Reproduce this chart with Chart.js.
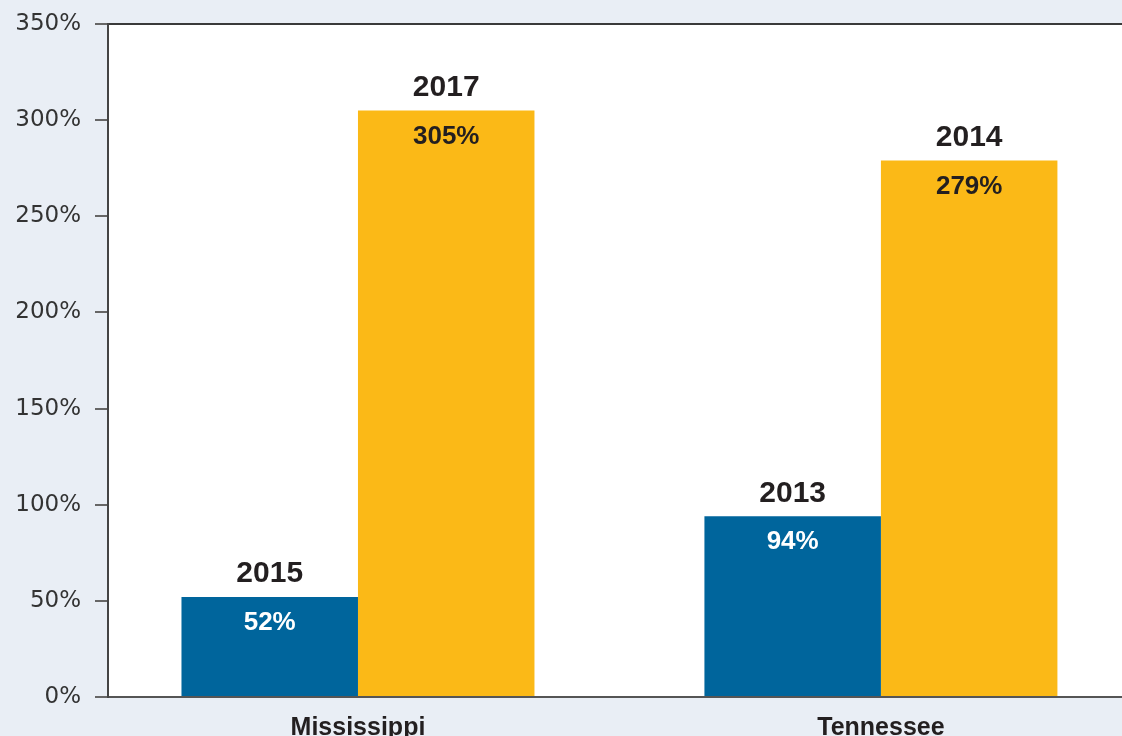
<!DOCTYPE html>
<html>
<head>
<meta charset="utf-8">
<script src="https://cdn.jsdelivr.net/npm/chart.js@4/dist/chart.umd.min.js"></script>
<style>
  html, body { margin: 0; padding: 0; background: #e9eef5; overflow: hidden; }
  #wrap { width: 1122px; height: 736px; }
</style>
</head>
<body>
<div id="wrap"><canvas id="barChart"></canvas></div>
<script>
// Data
const states = ['Mississippi', 'Tennessee'];
const firstValues = [52, 94];
const firstYears = ['2015', '2013'];
const secondValues = [305, 279];
const secondYears = ['2017', '2014'];
const yTicks = [0, 50, 100, 150, 200, 250, 300, 350];

const blue = '#00659c';
const gold = '#fbb917';
const boldFont = '"Liberation Sans", Arial, sans-serif';

// plot background + top rule
const plotFrame = {
  id: 'plotFrame',
  beforeDraw(chart) {
    const {ctx, chartArea: a} = chart;
    ctx.save();
    ctx.fillStyle = '#ffffff';
    ctx.fillRect(a.left, a.top, a.right - a.left, a.bottom - a.top);
    ctx.strokeStyle = '#3a3a3a';
    ctx.lineWidth = 2;
    ctx.beginPath();
    ctx.moveTo(a.left, a.top);
    ctx.lineTo(a.right, a.top);
    ctx.stroke();
    ctx.restore();
  }
};

// year above bar, percent inside bar
const barLabels = {
  id: 'barLabels',
  afterDatasetsDraw(chart) {
    const ctx = chart.ctx;
    ctx.save();
    ctx.textAlign = 'center';
    ctx.textBaseline = 'middle';
    chart.data.datasets.forEach((ds, i) => {
      chart.getDatasetMeta(i).data.forEach((bar, j) => {
        ctx.font = 'bold 30px ' + boldFont;
        ctx.fillStyle = '#231f20';
        ctx.fillText(ds.years[j], bar.x, bar.y - 23);
        ctx.font = 'bold 26px ' + boldFont;
        ctx.fillStyle = ds.textColor;
        ctx.fillText(ds.data[j].y + '%', bar.x, bar.y + 26);
      });
    });
    ctx.restore();
  }
};

const toPoints = vals => vals.map((v, i) => ({x: i, y: v}));

new Chart(document.getElementById('barChart'), {
  type: 'bar',
  data: {
    datasets: [
      {data: toPoints(firstValues), years: firstYears, backgroundColor: blue, textColor: '#ffffff'},
      {data: toPoints(secondValues), years: secondYears, backgroundColor: gold, textColor: '#231f20'}
    ]
  },
  options: {
    responsive: true,
    maintainAspectRatio: false,
    animation: false,
    layout: { padding: { top: 24, right: 0, left: 0, bottom: 0 } },
    categoryPercentage: 0.675,
    barPercentage: 1,
    plugins: { legend: { display: false }, tooltip: { enabled: false } },
    scales: {
      x: {
        type: 'linear',
        offset: false,
        min: -0.478,
        max: 1.461,
        afterBuildTicks: scale => { scale.ticks = states.map((s, i) => ({value: i})); },
        afterFit: scale => { scale.height = 39; },
        grid: { display: false },
        border: { color: '#555', width: 2 },
        ticks: {
          padding: 8,
          color: '#231f20',
          font: { family: boldFont, size: 25, weight: 'bold' },
          callback: v => states[v] || ''
        }
      },
      y: {
        min: 0,
        max: 350,
        afterBuildTicks: scale => { scale.ticks = yTicks.map(v => ({value: v})); },
        afterFit: scale => { scale.width = 108; scale.paddingTop = 0; scale.paddingBottom = 0; },
        grid: { drawOnChartArea: false, tickLength: 13, color: '#666', lineWidth: 2 },
        border: { color: '#444', width: 2 },
        ticks: {
          padding: 14,
          color: '#333',
          font: { family: '"DejaVu Sans", sans-serif', size: 23 },
          callback: v => v + '%'
        }
      }
    }
  },
  plugins: [plotFrame, barLabels]
});
</script>
</body>
</html>
